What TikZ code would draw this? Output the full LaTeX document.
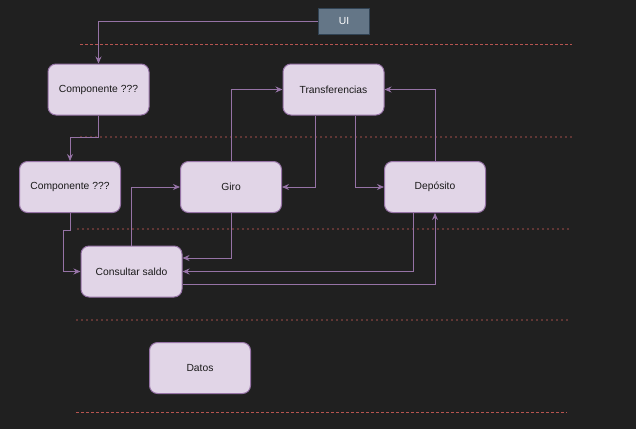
\documentclass[tikz,border=0pt]{standalone}
\usepackage{fontspec}
\setmainfont{Liberation Sans}
\usetikzlibrary{arrows.meta}
\definecolor{bgdark}{HTML}{202020}
\definecolor{boxfill}{HTML}{E1D5E7}
\definecolor{boxline}{HTML}{9673A6}
\definecolor{uifill}{HTML}{647687}
\definecolor{uiline}{HTML}{314354}
\definecolor{layerred}{HTML}{B85450}
\tikzstyle{every node}=[font=\fontsize{10.3}{12}\selectfont]
\tikzstyle{comp}=[draw=boxline,fill=boxfill,line width=1pt,rounded corners=8pt,minimum width=101pt,minimum height=51pt,inner sep=0pt,text=black!90]
\tikzstyle{uibox}=[draw=uiline,fill=uifill,line width=1pt,minimum width=51pt,minimum height=26pt,inner sep=0pt,text=white]
\tikzstyle{link}=[draw=boxline,line width=0.9pt,-{Stealth[length=7pt,width=6pt]}]
\tikzstyle{layer}=[draw=layerred,line width=0.9pt,dash pattern=on 3pt off 2pt]
\tikzstyle{sublayer}=[draw=layerred!42!bgdark,line width=1.6pt,dash pattern=on 2pt off 3pt]

\begin{document}
\begin{tikzpicture}[x=1pt,y=-1pt]
	\useasboundingbox[fill=bgdark] (0,0) rectangle (636,429);
	%layers
	\draw[layer] (80,44) -- (572,44);
	\draw[sublayer] (80,137) -- (572,137);
	\draw[sublayer] (77,229) -- (569,229);
	\draw[sublayer] (76,320) -- (568,320);
	\draw[layer] (76,412) -- (567,412);
	%boxes
	\node[uibox] (ui) at (344,21) {UI};
	\node[comp] (comp1) at (98.5,89.5) {Componente ???};
	\node[comp] (transf) at (333.5,89.5) {Transferencias};
	\node[comp] (comp2) at (70,187) {Componente ???};
	\node[comp] (giro) at (231,187) {Giro};
	\node[comp] (deposito) at (435,187) {Depósito};
	\node[comp] (consultar) at (131.5,271.5) {Consultar saldo};
	\node[comp] (datos) at (200,368) {Datos};
	%links
	\draw[link] (ui.west) -| (comp1.north);
	\draw[link] (comp1.south) -- ++(0,22) -| (comp2.north);
	\draw[link] (comp2.south) -- ++(0,17) -- ++(-6.5,0) |- (consultar.west);
	\draw[link] (consultar.north) |- (giro.west);
	\draw[link] (giro.north) |- (transf.west);
	\draw[link] ([xshift=-18.5pt]transf.south) |- (giro.east);
	\draw[link] ([xshift=21.5pt]transf.south) |- (deposito.west);
	\draw[link] (deposito.north) |- (transf.east);
	\draw[link] (giro.south) |- ([yshift=13.5pt]consultar.east);
	\draw[link] ([xshift=-22pt]deposito.south) |- (consultar.east);
	\draw[link] ([yshift=-12.5pt]consultar.east) -| (deposito.south);
\end{tikzpicture}
\end{document}
